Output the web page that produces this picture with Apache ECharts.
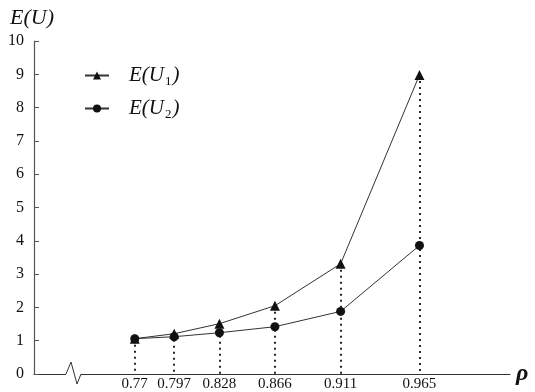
<!DOCTYPE html>
<html>
<head>
<meta charset="utf-8">
<script src="https://cdn.jsdelivr.net/npm/echarts@6/dist/echarts.min.js"></script>
<style>html,body{margin:0;padding:0;background:#fff}#c{width:535px;height:392px}</style>
</head>
<body>
<div id="c"></div>
<script>
var rho = [0.77, 0.797, 0.828, 0.866, 0.911, 0.965];
var eu1 = [1.06, 1.21, 1.51, 2.05, 3.31, 8.98];
var eu2 = [1.06, 1.12, 1.24, 1.42, 1.88, 3.86];
var xTickLabels = [0.77, 0.797, 0.828, 0.866, 0.911, 0.965];
var yTicks = [0, 1, 2, 3, 4, 5, 6, 7, 8, 9, 10];
var seriesNames = ['E(U1)', 'E(U2)'];

var FONT = '"Liberation Serif", "DejaVu Serif", serif';
var chart = echarts.init(document.getElementById('c'), null, {renderer: 'canvas'});

function pairs(xs, ys) { return xs.map(function (x, i) { return [x, ys[i]]; }); }

var dropLines = rho.map(function (x, i) {
  return [{coord: [x, eu1[i]]}, {coord: [x, 0]}];
});

chart.setOption({
  animation: false,
  backgroundColor: '#fff',
  grid: {left: 34, right: 25, top: 41, bottom: 18},
  legend: {
    orient: 'vertical',
    left: 79,
    top: 58,
    itemWidth: 24,
    itemHeight: 10,
    itemGap: 8,
    data: seriesNames,
    textStyle: {
      fontFamily: FONT, fontSize: 21, color: '#111', padding: [0, 0, 0, 15],
      rich: {
        i: {fontFamily: FONT, fontStyle: 'italic', fontSize: 21, color: '#111', lineHeight: 24, padding: [0, 0, 0, 0]},
        s: {fontFamily: FONT, fontSize: 13, color: '#111', lineHeight: 24, padding: [12, 1, 0, 1]}
      }
    },
    formatter: function (name) {
      var n = name.charAt(3);
      return '{i|E(U}{s|' + n + '}{i|)}';
    }
  },
  xAxis: {
    type: 'value',
    min: 0.701,
    max: 1.027,
    name: 'ρ',
    nameLocation: 'end',
    nameGap: 6,
    nameTextStyle: {fontFamily: FONT, fontStyle: 'italic', fontWeight: 'bold', fontSize: 24, color: '#111', verticalAlign: 'middle', padding: [8, 0, 0, 0]},
    axisLine: {show: true, lineStyle: {color: '#333', width: 1}},
    axisTick: {show: false},
    splitLine: {show: false},
    axisLabel: {
      customValues: xTickLabels,
      fontFamily: FONT, fontSize: 15, color: '#111', margin: 3,
      formatter: function (v) { return String(v); }
    }
  },
  yAxis: {
    type: 'value',
    min: 0,
    max: 10,
    interval: 1,
    name: 'E(U)',
    nameLocation: 'end',
    nameGap: 12,
    nameTextStyle: {fontFamily: FONT, fontStyle: 'italic', fontSize: 22, color: '#111', padding: [0, 4, 0, 0]},
    axisLine: {show: true, lineStyle: {color: '#555', width: 1.2}},
    axisTick: {show: true, inside: true, length: 5, lineStyle: {color: '#555'}},
    splitLine: {show: false},
    axisLabel: {fontFamily: FONT, fontSize: 16, color: '#111', margin: 10,
      customValues: yTicks}
  },
  graphic: [
    {type: 'rect', shape: {x: 66, y: 371, width: 15, height: 5}, style: {fill: '#fff'}, z: 100},
    {type: 'polyline', shape: {points: [[66, 374], [71, 362], [77, 384], [81, 374]]},
      style: {stroke: '#333', lineWidth: 1, fill: null}, z: 101}
  ],
  series: [
    {
      name: seriesNames[0],
      type: 'line',
      data: pairs(rho, eu1),
      symbol: 'triangle',
      symbolSize: 10,
      itemStyle: {color: '#111'},
      lineStyle: {color: '#333', width: 1},
      z: 3,
      markLine: {
        silent: true,
        symbol: ['none', 'none'],
        label: {show: false},
        lineStyle: {type: [2, 4], color: '#111', width: 1.8},
        data: dropLines
      }
    },
    {
      name: seriesNames[1],
      type: 'line',
      data: pairs(rho, eu2),
      symbol: 'circle',
      symbolSize: 9,
      itemStyle: {color: '#111'},
      lineStyle: {color: '#333', width: 1},
      z: 4
    }
  ]
});
</script>
</body>
</html>
